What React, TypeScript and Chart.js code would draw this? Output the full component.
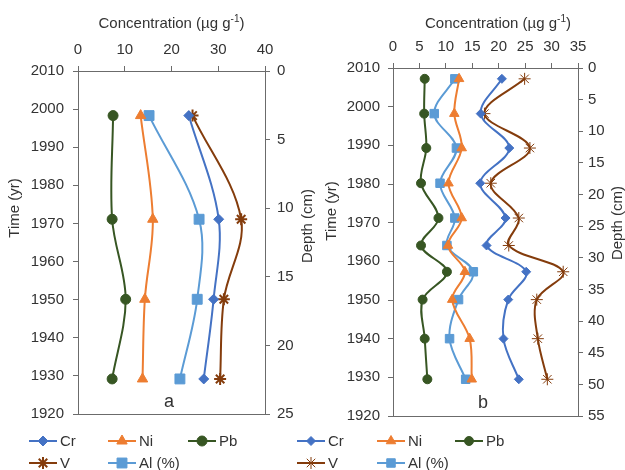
import React, { useEffect, useRef } from "react";
import { Chart, registerables } from "chart.js";
import { drawPoint } from "chart.js/helpers";

Chart.register(...registerables);

// ---- Data ----
const seriesNames = ["Cr", "Ni", "Pb", "V", "Al (%)"];

// Panel a (x: concentration, y: year)
const yearsA = [1998.3, 1971.1, 1950.1, 1929.2];
const crA = [23.7, 30.1, 29.0, 26.9];
const niA = [13.4, 16.0, 14.3, 13.8];
const pbA = [7.5, 7.3, 10.2, 7.3];
const vA = [24.5, 34.9, 31.2, 30.4];
const alA = [15.2, 25.9, 25.5, 21.8];

// Panel b
const yearsB = [2007.2, 1998.2, 1989.3, 1980.2, 1971.2, 1964.1, 1957.3, 1950.1, 1940.0, 1929.5];
const crB = [20.6, 16.6, 22.0, 16.5, 21.3, 17.7, 25.2, 21.8, 20.9, 23.8];
const niB = [12.5, 11.6, 13.0, 10.5, 13.0, 10.4, 13.6, 11.2, 14.5, 14.9];
const pbB = [6.0, 5.9, 6.3, 5.3, 8.6, 5.3, 10.2, 5.6, 6.0, 6.5];
const vB = [24.9, 17.3, 25.9, 18.5, 23.8, 21.9, 32.2, 27.2, 27.4, 29.2];
const alB = [11.7, 7.8, 12.0, 8.9, 11.7, 10.2, 15.2, 12.4, 10.7, 13.75];

const yearTicks = { min: 1920, max: 2010, step: 10 };
const concTicksA = { min: 0, max: 40, step: 10 };
const concTicksB = { min: 0, max: 35, step: 5 };
const depthTicksA = { min: 0, max: 25, step: 5 };
const depthTicksB = { min: 0, max: 55, step: 5 };

const colors = ["#4472C4", "#ED7D31", "#375623", "#843C0C", "#5B9BD5"];
const FONT = "'Liberation Sans', Arial, sans-serif";
const TEXT = "#333333";
const AXIS = "#6b6b6b";

type PanelCfg = {
  years: number[];
  series: number[][];
  conc: { min: number; max: number; step: number };
  depth: { min: number; max: number; step: number };
  area: { left: number; right: number; top: number; bottom: number };
  yPad: number;
  y2Pad: number;
  radii: number[];
  starWidth: number;
  titleX: number;
  timeX: number;
  timeY: number;
  depthX: number;
  depthY: number;
  label: string;
  labelX: number;
  labelY: number;
  legendX: number[];
};

const W = 625;
const H = 470;

function makeChart(canvas: HTMLCanvasElement, p: PanelCfg) {
  const styles = ["rectRot", "triangle", "circle", "star", "rect"];
  const datasets = seriesNames.map((name, k) => ({
    label: name,
    data: p.years.map((yr, i) => ({ x: p.series[k][i], y: yr })),
    showLine: true,
    borderColor: colors[k],
    backgroundColor: colors[k],
    pointBackgroundColor: colors[k],
    pointBorderColor: colors[k],
    pointStyle: styles[k],
    pointRadius: p.radii[k],
    pointBorderWidth: k === 3 ? p.starWidth : 1,
    borderWidth: 2,
    tension: 0.35,
    clip: false as any,
  }));

  const tickFont = { family: FONT, size: 15 };
  const gridOpts = { drawOnChartArea: false, drawTicks: true, tickLength: 5, color: AXIS };
  const border = { color: AXIS, width: 1 };
  const yAxisW = 70;
  const y2AxisW = 40;

  const overlay = {
    id: "overlay" + p.label,
    afterDraw(chart: any) {
      const ctx = chart.ctx as CanvasRenderingContext2D;
      ctx.save();
      ctx.fillStyle = TEXT;
      // top title with superscript
      const main = "Concentration (µg g";
      const sup = "-1";
      const end = ")";
      ctx.font = `15px ${FONT}`;
      const w1 = ctx.measureText(main).width;
      const w3 = ctx.measureText(end).width;
      ctx.font = `10px ${FONT}`;
      const w2 = ctx.measureText(sup).width;
      const x0 = p.titleX - (w1 + w2 + w3) / 2;
      const ty = 24;
      ctx.textBaseline = "middle";
      ctx.textAlign = "left";
      ctx.font = `15px ${FONT}`;
      ctx.fillText(main, x0, ty);
      ctx.font = `10px ${FONT}`;
      ctx.fillText(sup, x0 + w1, ty - 5);
      ctx.font = `15px ${FONT}`;
      ctx.fillText(end, x0 + w1 + w2, ty);

      // rotated titles
      const rot = (txt: string, x: number, y: number) => {
        ctx.save();
        ctx.translate(x, y);
        ctx.rotate(-Math.PI / 2);
        ctx.textAlign = "center";
        ctx.textBaseline = "middle";
        ctx.font = `15px ${FONT}`;
        ctx.fillText(txt, 0, 0);
        ctx.restore();
      };
      rot("Time (yr)", p.timeX, p.timeY);
      rot("Depth (cm)", p.depthX, p.depthY);

      // panel label
      ctx.textAlign = "center";
      ctx.textBaseline = "middle";
      ctx.font = `18px ${FONT}`;
      ctx.fillText(p.label, p.labelX, p.labelY);

      // legend
      const rows = [441, 463];
      const pos = [
        [p.legendX[0], rows[0]],
        [p.legendX[1], rows[0]],
        [p.legendX[2], rows[0]],
        [p.legendX[0], rows[1]],
        [p.legendX[1], rows[1]],
      ];
      seriesNames.forEach((name, k) => {
        const [lx, ly] = pos[k];
        ctx.strokeStyle = colors[k];
        ctx.lineWidth = 2;
        ctx.beginPath();
        ctx.moveTo(lx, ly);
        ctx.lineTo(lx + 28, ly);
        ctx.stroke();
        ctx.fillStyle = colors[k];
        ctx.lineWidth = k === 3 ? p.starWidth : 1;
        drawPoint(ctx, { pointStyle: styles[k], rotation: 0, radius: p.radii[k], borderWidth: k === 3 ? p.starWidth : 1 } as any, lx + 14, ly);
        ctx.fillStyle = TEXT;
        ctx.textAlign = "left";
        ctx.textBaseline = "middle";
        ctx.font = `15px ${FONT}`;
        ctx.fillText(name, lx + 31, ly + 1);
      });
      ctx.restore();
    },
  };

  return new Chart(canvas, {
    type: "scatter",
    data: { datasets: datasets as any },
    plugins: [overlay],
    options: {
      responsive: false,
      animation: false,
      layout: {
        padding: {
          left: p.area.left - yAxisW,
          right: W - p.area.right - y2AxisW,
          top: 0,
          bottom: 0,
        },
      },
      plugins: { legend: { display: false }, tooltip: { enabled: false }, title: { display: false } },
      scales: {
        x: {
          type: "linear",
          position: "top",
          min: p.conc.min,
          max: p.conc.max,
          ticks: { stepSize: p.conc.step, padding: 7, font: tickFont, color: TEXT, maxRotation: 0, callback: (v: any) => String(v) },
          grid: gridOpts,
          border,
          afterFit: (s: any) => { s.height = p.area.top; },
        },
        xb: {
          type: "linear",
          position: "bottom",
          min: p.conc.min,
          max: p.conc.max,
          ticks: { display: false },
          grid: { display: false },
          border,
          afterFit: (s: any) => { s.height = H - p.area.bottom; },
        },
        y: {
          type: "linear",
          position: "left",
          min: yearTicks.min,
          max: yearTicks.max,
          ticks: { stepSize: yearTicks.step, padding: p.yPad, font: tickFont, color: TEXT, callback: (v: any) => String(v) },
          grid: gridOpts,
          border,
          afterFit: (s: any) => { s.width = yAxisW; },
        },
        y2: {
          type: "linear",
          position: "right",
          min: p.depth.min,
          max: p.depth.max,
          reverse: true,
          ticks: { stepSize: p.depth.step, padding: p.y2Pad, font: tickFont, color: TEXT, callback: (v: any) => String(v) },
          grid: gridOpts,
          border,
          afterFit: (s: any) => { s.width = y2AxisW; },
        },
      } as any,
    },
  });
}

const panelA: PanelCfg = {
  years: yearsA,
  series: [crA, niA, pbA, vA, alA],
  conc: concTicksA,
  depth: depthTicksA,
  area: { left: 78, right: 265, top: 71, bottom: 414 },
  yPad: 9,
  y2Pad: 7,
  radii: [5, 6, 5, 6, 7],
  starWidth: 2,
  titleX: 171.5,
  timeX: 15,
  timeY: 208,
  depthX: 308,
  depthY: 226,
  label: "a",
  labelX: 169,
  labelY: 402,
  legendX: [29, 108, 188],
};

const panelB: PanelCfg = {
  years: yearsB,
  series: [crB, niB, pbB, vB, alB],
  conc: concTicksB,
  depth: depthTicksB,
  area: { left: 393, right: 578, top: 68, bottom: 416 },
  yPad: 8,
  y2Pad: 5,
  radii: [4.5, 5.5, 4.5, 6, 6],
  starWidth: 1,
  titleX: 498,
  timeX: 332,
  timeY: 211,
  depthX: 618,
  depthY: 223,
  label: "b",
  labelX: 483,
  labelY: 403,
  legendX: [297, 377, 455],
};

export default function App() {
  const refA = useRef<HTMLCanvasElement>(null);
  const refB = useRef<HTMLCanvasElement>(null);
  useEffect(() => {
    const a = makeChart(refA.current!, panelA);
    const b = makeChart(refB.current!, panelB);
    return () => {
      a.destroy();
      b.destroy();
    };
  }, []);
  const cs: React.CSSProperties = { position: "absolute", left: 0, top: 0, width: W, height: H };
  return (
    <div style={{ position: "absolute", left: 0, top: 0, width: W, height: H, background: "#fff" }}>
      <canvas ref={refA} width={W} height={H} style={cs} />
      <canvas ref={refB} width={W} height={H} style={cs} />
    </div>
  );
}
